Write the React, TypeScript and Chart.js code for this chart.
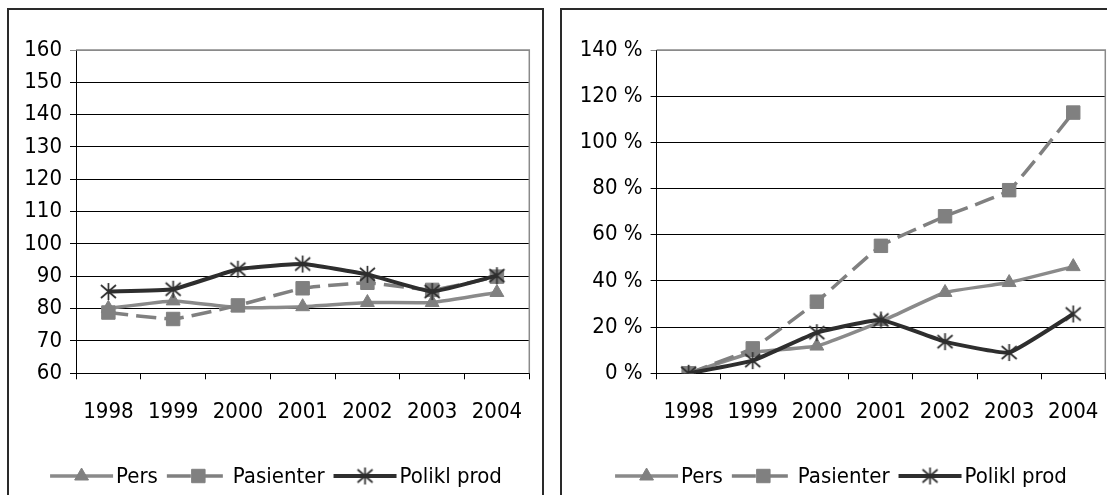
import React, { useEffect, useRef } from "react";
import { Chart, registerables } from "chart.js";
import { drawPoint } from "chart.js/helpers";

Chart.register(...registerables);

// ---------- data ----------
const years = ["1998", "1999", "2000", "2001", "2002", "2003", "2004"];
const seriesNames = ["Pers", "Pasienter", "Polikl prod"];

// left chart (index values)
const indexPers = [80.1, 82.4, 80.3, 80.6, 81.9, 81.9, 85.0];
const indexPasienter = [78.8, 76.8, 81.0, 86.3, 88.0, 85.8, 89.9];
const indexPolikl = [85.3, 86.0, 92.2, 93.8, 90.6, 85.3, 90.2];
const indexAxis = [60, 160, 10];

// right chart (growth, percent)
const growthPers = [0, 9.0, 11.8, 22.4, 35.0, 39.3, 46.2];
const growthPasienter = [0, 10.8, 31.0, 55.2, 68.0, 79.3, 112.9];
const growthPolikl = [0, 5.5, 17.6, 23.1, 13.7, 9.0, 25.7];
const growthAxis = [0, 140, 20];

// ---------- style ----------
const FONT = "'DejaVu Sans Condensed', 'DejaVu Sans', sans-serif";
const FONT_SIZE = 22;
const C_PERS = "#8a8a8a";
const C_PAS = "#808080";
const C_POL = "#2e2e2e";

function makeAsterisk(): HTMLCanvasElement {
  const c = document.createElement("canvas");
  c.width = 19;
  c.height = 19;
  const g = c.getContext("2d")!;
  g.strokeStyle = C_POL;
  g.lineWidth = 1.7;
  g.beginPath();
  g.moveTo(9.5, 1);
  g.lineTo(9.5, 18);
  g.moveTo(2, 3);
  g.lineTo(17, 16);
  g.moveTo(17, 3);
  g.lineTo(2, 16);
  g.stroke();
  return c;
}

const plotBorder = {
  id: "plotBorder",
  beforeDatasetsDraw(chart: any) {
    const { ctx, chartArea } = chart;
    ctx.save();
    ctx.strokeStyle = "#8a8a8a";
    ctx.lineWidth = 1.5;
    ctx.beginPath();
    ctx.moveTo(chartArea.left, chartArea.top);
    ctx.lineTo(chartArea.right, chartArea.top);
    ctx.lineTo(chartArea.right, chartArea.bottom);
    ctx.stroke();
    ctx.restore();
  },
};

const lineLegend = {
  id: "lineLegend",
  afterDraw(chart: any, _args: any, opts: any) {
    const ctx = chart.ctx as CanvasRenderingContext2D;
    ctx.save();
    ctx.font = `${FONT_SIZE}px ${FONT}`;
    const dss = chart.data.datasets;
    const lineLen = 63;
    const gapText = 3;
    const gapItem = 9;
    const widths = dss.map((d: any) => ctx.measureText(d.label).width);
    const total =
      widths.reduce((s: number, w: number) => s + lineLen + gapText + w, 0) +
      gapItem * (dss.length - 1);
    let x = opts.centerX - total / 2;
    const y = opts.y;
    dss.forEach((ds: any, i: number) => {
      ctx.strokeStyle = ds.borderColor;
      ctx.lineWidth = ds.borderWidth;
      ctx.setLineDash(ds.borderDash ? [24, 8] : []);
      ctx.beginPath();
      ctx.moveTo(x, y);
      ctx.lineTo(x + lineLen, y);
      ctx.stroke();
      ctx.setLineDash([]);
      ctx.fillStyle = ds.pointBackgroundColor;
      ctx.strokeStyle = ds.pointBorderColor;
      ctx.lineWidth = ds.pointBorderWidth;
      drawPoint(
        ctx,
        { pointStyle: ds.pointStyle, rotation: 0, radius: ds.pointRadius, borderWidth: ds.pointBorderWidth },
        x + lineLen / 2,
        y
      );
      ctx.fillStyle = "#000";
      ctx.textBaseline = "middle";
      ctx.textAlign = "left";
      ctx.fillText(ds.label, x + lineLen + gapText, y + 1);
      x += lineLen + gapText + widths[i] + gapItem;
    });
    ctx.restore();
  },
};

function buildDatasets(pers: number[], pas: number[], pol: number[], star: HTMLCanvasElement) {
  return [
    {
      label: seriesNames[0],
      data: pers,
      borderColor: C_PERS,
      backgroundColor: C_PERS,
      borderWidth: 3.5,
      pointStyle: "triangle",
      pointRadius: 8,
      pointBackgroundColor: C_PAS,
      pointBorderColor: C_PAS,
      pointBorderWidth: 1,
      tension: 0.12,
      order: 3,
    },
    {
      label: seriesNames[1],
      data: pas,
      borderColor: C_PAS,
      backgroundColor: C_PAS,
      borderWidth: 3.5,
      borderDash: [20, 8],
      pointStyle: "rect",
      pointRadius: 9.5,
      pointBackgroundColor: C_PAS,
      pointBorderColor: C_PAS,
      pointBorderWidth: 1,
      tension: 0.12,
      order: 2,
    },
    {
      label: seriesNames[2],
      data: pol,
      borderColor: C_POL,
      backgroundColor: C_POL,
      borderWidth: 4,
      pointStyle: star,
      pointRadius: 9,
      pointBackgroundColor: C_POL,
      pointBorderColor: C_POL,
      pointBorderWidth: 1,
      tension: 0.12,
      order: 1,
    },
  ];
}

type PanelProps = {
  pers: number[];
  pas: number[];
  pol: number[];
  axis: number[];
  suffix: string;
  width: number;
  height: number;
  yWidth: number;
  padRight: number;
  legendX: number;
  left: number;
  top: number;
};

function Panel(p: PanelProps) {
  const ref = useRef<HTMLCanvasElement | null>(null);
  useEffect(() => {
    if (!ref.current) return;
    const star = makeAsterisk();
    const [mn, mx, st] = p.axis;
    const plotTop = 40;
    const plotBottom = 363.3;
    const chart = new Chart(ref.current, {
      type: "line",
      data: { labels: years, datasets: buildDatasets(p.pers, p.pas, p.pol, star) as any },
      options: {
        animation: false,
        responsive: false,
        devicePixelRatio: 1,
        layout: { padding: { top: plotTop, right: p.padRight, bottom: 0, left: 0 } },
        plugins: {
          legend: { display: false },
          tooltip: { enabled: false },
          lineLegend: { centerX: p.legendX, y: 466 },
        } as any,
        scales: {
          x: {
            type: "category",
            offset: true,
            grid: {
              offset: true,
              drawOnChartArea: false,
              drawTicks: true,
              tickLength: 6,
              color: "#000",
            },
            border: { display: true, color: "#000", width: 1 },
            ticks: { color: "#000", font: { family: FONT, size: FONT_SIZE }, padding: 20, maxRotation: 0 },
            afterFit: (s: any) => {
              s.height = p.height - plotBottom;
            },
          },
          y: {
            min: mn,
            max: mx,
            grid: {
              color: (c: any) => (c.tick && c.tick.value === mx ? "#8a8a8a" : "#000"),
              lineWidth: 1,
              tickLength: 6,
              drawTicks: true,
            },
            border: { display: true, color: "#000", width: 1 },
            ticks: {
              stepSize: st,
              color: "#000",
              font: { family: FONT, size: FONT_SIZE },
              padding: 8,
              callback: (v: any) => `${v}${p.suffix}`,
            },
            afterFit: (s: any) => {
              s.width = p.yWidth;
            },
          },
        },
      },
      plugins: [plotBorder, lineLegend],
    });
    return () => chart.destroy();
  }, []);
  return (
    <canvas
      ref={ref}
      width={p.width}
      height={p.height}
      style={{ position: "absolute", left: p.left, top: p.top, width: p.width, height: p.height, display: "block" }}
    />
  );
}

export default function App() {
  return (
    <div
      style={{
        position: "fixed",
        left: 0,
        top: 0,
        width: 1107,
        height: 495,
        overflow: "hidden",
        background: "#fff",
      }}
    >
      <div
        style={{
          position: "absolute",
          left: 7,
          top: 8,
          width: 537,
          height: 520,
          border: "2px solid #2a2a2a",
          boxSizing: "border-box",
        }}
      />
      <div
        style={{
          position: "absolute",
          left: 560,
          top: 8,
          width: 562,
          height: 520,
          border: "2px solid #2a2a2a",
          boxSizing: "border-box",
        }}
      />
      <Panel
        pers={indexPers}
        pas={indexPasienter}
        pol={indexPolikl}
        axis={indexAxis}
        suffix=""
        width={534}
        height={485}
        yWidth={67}
        padRight={12.6}
        legendX={267}
        left={9}
        top={10}
      />
      <Panel
        pers={growthPers}
        pas={growthPasienter}
        pol={growthPolikl}
        axis={growthAxis}
        suffix=" %"
        width={558}
        height={485}
        yWidth={94.6}
        padRight={14.7}
        legendX={279}
        left={562}
        top={10}
      />
    </div>
  );
}
